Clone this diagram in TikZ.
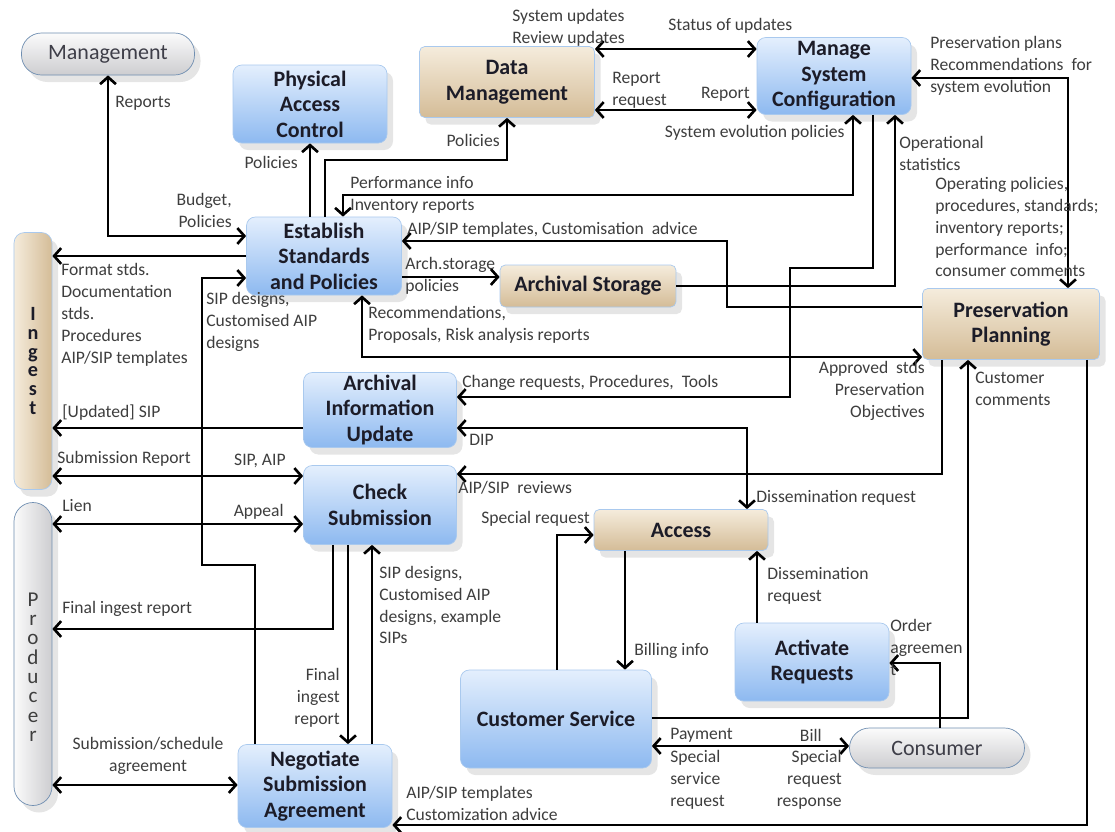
\documentclass[tikz,border=0pt]{standalone}
\usepackage{fontspec}
\setmainfont{Carlito}
\usepackage{tikz}
\usetikzlibrary{arrows.meta, positioning, shadows}
\usepackage{xcolor}
\definecolor{BoxTop}{HTML}{E4EFFD}
\definecolor{BoxBot}{HTML}{8DB9F0}
\definecolor{BoxEdge}{HTML}{A9C9EE}
\definecolor{TanTop}{HTML}{F5ECDC}
\definecolor{TanBot}{HTML}{D4BC97}
\definecolor{GreyTop}{HTML}{FBFBFB}
\definecolor{GreyBot}{HTML}{CDCDD0}
\definecolor{PillEdge}{HTML}{6F8EB1}
\definecolor{LabelGrey}{HTML}{3E3E3E}
\definecolor{NodeInk}{HTML}{1C1C28}

\begin{document}
\begin{tikzpicture}[
  x=0.2mm, y=-0.2mm,
  proc/.style={rounded corners=5pt, draw=BoxEdge, top color=BoxTop, bottom color=BoxBot,
               align=center, inner sep=1pt, text=NodeInk,
               font=\bfseries\fontsize{12.5}{14.5}\selectfont,
               drop shadow={shadow xshift=1.2mm, shadow yshift=-1.4mm, opacity=0.2}},
  store/.style={proc, rounded corners=3pt, top color=TanTop, bottom color=TanBot},
  actor/.style={rounded corners=4mm, draw=PillEdge, top color=GreyTop, bottom color=GreyBot,
                align=center, inner sep=1pt, text=NodeInk!85,
                font=\fontsize{12.5}{14.5}\selectfont,
                drop shadow={shadow xshift=1.2mm, shadow yshift=-1.4mm, opacity=0.2}},
  lbl/.style={font=\fontsize{10}{12.5}\selectfont, text=LabelGrey, align=left, inner sep=0pt},
  arr/.style={-{Straight Barb[length=4pt, width=9pt]}, line width=1.5pt},
  arrboth/.style={{Straight Barb[length=4pt, width=9pt]}-{Straight Barb[length=4pt, width=9pt]}, line width=1.5pt}
]
\fill[white] (0,0) rectangle (1115,832);
\useasboundingbox (0,0) rectangle (1115,832);

% ── EXTERNAL ACTORS ───────────────────────────────────────────────────────────
\node[actor, minimum width=34.6mm, minimum height=8.4mm] (mgmt) at (108,54) {Management};
\node[actor, minimum width=35mm, minimum height=8mm]     (cons) at (937,748) {Consumer};
\node[rounded corners=6pt, draw=BoxEdge, left color=TanTop, right color=TanBot,
      minimum width=7.6mm, minimum height=51.4mm, inner sep=0pt, align=center, text=NodeInk,
      font=\bfseries\fontsize{11.5}{10.6}\selectfont,
      drop shadow={shadow xshift=1.2mm, shadow yshift=-1.4mm, opacity=0.2}]
  (ingest) at (33,361) {I\\n\\g\\e\\s\\t};
\node[rounded corners=3.8mm, draw=PillEdge, left color=GreyTop, right color=GreyBot,
      minimum width=7.6mm, minimum height=60.6mm, inner sep=0pt,
      drop shadow={shadow xshift=1.2mm, shadow yshift=-1.4mm, opacity=0.2},
      label={[name=producerTxt, align=center, text=LabelGrey, inner sep=0pt,
              font=\fontsize{12}{11}\selectfont, yshift=-2.6mm]center:{P\\r\\o\\d\\u\\c\\e\\r}}]
  (producer) at (33,654) {};

% ── FUNCTIONS ─────────────────────────────────────────────────────────────────
\node[proc, minimum width=30.8mm, minimum height=15.6mm] (pac) at (310,104) {Physical\\Access\\Control};
\node[store, minimum width=35mm, minimum height=14.2mm]  (dm)  at (507,82)  {Data\\Management};
\node[proc, minimum width=30.8mm, minimum height=15.4mm] (msc) at (834,76)  {Manage\\System\\Configuration};
\node[proc, minimum width=31mm, minimum height=15.6mm]   (esp) at (324,256) {Establish\\Standards\\and Policies};
\node[store, minimum width=35.2mm, minimum height=8.4mm] (as)  at (588,286) {Archival Storage};
\node[store, minimum width=35.4mm, minimum height=14.2mm](pp)  at (1011,324) {Preservation\\Planning};
\node[proc, minimum width=30.6mm, minimum height=15mm]   (aiu) at (380,410) {Archival\\Information\\Update};
\node[proc, minimum width=30.6mm, minimum height=15.8mm] (cs)  at (380,505) {Check\\Submission};
\node[store, minimum width=34.8mm, minimum height=8.2mm] (acc) at (681,530) {Access};
\node[proc, minimum width=30.8mm, minimum height=15.6mm] (ar)  at (812,662) {Activate\\Requests};
\node[proc, minimum width=38.2mm, minimum height=19.6mm] (csv) at (556,719) {Customer Service};
\node[proc, minimum width=30.8mm, minimum height=16.6mm] (nsa) at (315,786) {Negotiate\\Submission\\Agreement};

% ── TOP ROW ───────────────────────────────────────────────────────────────────
\draw[arrboth] (mgmt.south) |- (esp.west |- 0,236);
\node[lbl, anchor=west] (lReports) at (115,103) {Reports};
\node[lbl, anchor=east, align=right] (lBudget) at (232,210) {Budget,\\Policies};

\draw[arr] (esp.north -| 310,0) -- (pac.south -| 310,0);
\node[lbl, anchor=east] (lPolA) at (298,162) {Policies};

\draw[arr] (esp.north -| 325,0) |- (507,160) -- (dm.south);
\node[lbl, anchor=east] (lPolB) at (500,140) {Policies};

\draw[arrboth] (dm.east |- 0,49) -- (msc.west |- 0,49);
\node[lbl, anchor=west] (lSysUpd) at (512,28) {System updates\\Review updates};
\node[lbl, anchor=west] (lStatus) at (668,26) {Status of updates};

\draw[arrboth] (dm.east |- 0,110) -- (msc.west |- 0,110);
\node[lbl, anchor=west] (lRepReq) at (612,90) {Report\\request};
\node[lbl, anchor=east] (lReport) at (750,94) {Report};

\draw[arrboth] (esp.north -| 343,0) |- (853,195) -- (msc.south -| 853,0);
\node[lbl, anchor=west] (lPerf) at (350,195) {Performance info\\Inventory reports};
\node[lbl, anchor=east] (lSysEvo) at (845,133) {System evolution policies};

\draw[arrboth] (msc.east |- 0,78) -| (pp.north -| 1068,0);
\node[lbl, anchor=west] (lPlans) at (930,66) {Preservation plans\\Recommendations~ for\\system evolution};
\node[lbl, anchor=west] (lOper) at (935,227)
  {Operating policies,\\procedures, standards;\\inventory reports;\\performance~ info;\\consumer comments};

% ── MIDDLE ────────────────────────────────────────────────────────────────────
\draw[arr] (as.east) -| (msc.south -| 895,0);
\node[lbl, anchor=west] (lOpStat) at (899,153) {Operational\\statistics};

\draw[arr] (msc.south -| 873,0) |- (790,268) |- (aiu.east |- 0,397);
\node[lbl, anchor=west] (lChange) at (462,383) {Change requests, Procedures,~ Tools};

\draw[arr] (pp.west |- 0,307) -| (727,241) -- (esp.east |- 0,241);
\node[lbl, anchor=west] (lTempl) at (407,230) {AIP/SIP templates, Customisation~ advice};

\draw[arr] (esp.east |- 0,277) -- (as.west |- 0,277);
\node[lbl, anchor=west] (lArch) at (405,276) {Arch.storage\\policies};

\draw[arrboth] (esp.south -| 362,0) |- (pp.west |- 0,357);
\node[lbl, anchor=west] (lRecom) at (368,325) {Recommendations,\\Proposals, Risk analysis reports};
\node[lbl, anchor=east, align=right] (lApproved) at (925,391) {Approved~ stds\\Preservation\\Objectives};

\draw[arr] (esp.west |- 0,256) -- (ingest.east |- 0,256);
\node[lbl, anchor=west] (lFormat) at (61,315) {Format stds.\\Documentation\\stds.\\Procedures\\AIP/SIP templates};

\draw[arr] (nsa.north -| 255,0) |- (202,565) |- (esp.west |- 0,278);
\node[lbl, anchor=west] (lSipDes) at (206,322) {SIP designs,\\Customised AIP\\designs};

% ── INGEST / PRODUCER SIDE ────────────────────────────────────────────────────
\draw[arr] (aiu.west |- 0,428) -- (ingest.east |- 0,428);
\node[lbl, anchor=west] (lUpd) at (62,413) {[Updated] SIP};

\draw[arrboth] (ingest.east |- 0,476) -- (cs.west |- 0,476);
\node[lbl, anchor=west] (lSubRep) at (57,459) {Submission Report};
\node[lbl, anchor=east] (lSipAip) at (286,461) {SIP, AIP};

\draw[arrboth] (producer.east |- 0,524) -- (cs.west |- 0,524);
\node[lbl, anchor=west] (lLien) at (62,506) {Lien};
\node[lbl, anchor=east] (lAppeal) at (284,512) {Appeal};

\draw[arr] (cs.south -| 333,0) |- (producer.east |- 0,629);
\node[lbl, anchor=west] (lFinal) at (62,609) {Final ingest report};

\draw[arr] (cs.south -| 348,0) -- (nsa.north -| 348,0);
\node[lbl, anchor=east, align=right] (lFinalB) at (340,698) {Final\\ingest\\report};

\draw[arr] (nsa.north -| 372,0) -- (cs.south -| 372,0);
\node[lbl, anchor=west] (lSipEx) at (379,605) {SIP designs,\\Customised AIP\\designs, example\\SIPs};

\draw[arrboth] (producer.east |- 0,785) -- (nsa.west |- 0,785);
\node[lbl, align=center] (lSched) at (148,756) {Submission/schedule\\agreement};

% ── ACCESS SIDE ───────────────────────────────────────────────────────────────
\draw[arrboth] (aiu.east |- 0,428) -| (acc.north -| 747,0);
\node[lbl, anchor=west] (lDip) at (469,440) {DIP};
\node[lbl, anchor=west] (lDissA) at (756,498) {Dissemination request};

\draw[arr] (pp.south -| 942,0) |- (cs.east |- 0,474);
\node[lbl, anchor=west] (lReviews) at (458,488) {AIP/SIP~ reviews};

\draw[arr] (csv.north -| 557,0) |- (acc.west |- 0,535);
\node[lbl, anchor=east] (lSpecial) at (590,519) {Special request};

\draw[arr] (acc.south -| 625,0) -- (csv.north -| 625,0);
\node[lbl, anchor=west] (lBilling) at (634,651) {Billing info};

\draw[arr] (ar.north -| 757,0) -- (acc.south -| 757,0);
\node[lbl, anchor=west] (lDissB) at (767,586) {Dissemination\\request};

\draw[arr] (cons.north -| 940,0) |- (ar.east |- 0,663);
\node[lbl, anchor=west] (lOrder) at (890,647) {Order\\agreemen\\t};

\draw[arr] (csv.east |- 0,718) -| (pp.south -| 968,0);
\node[lbl, anchor=west] (lCustCom) at (975,389) {Customer\\comments};

\draw[arrboth] (csv.east |- 0,746) -- (cons.west |- 0,746);
\node[lbl, anchor=west] (lPayment) at (670,735) {Payment};
\node[lbl, anchor=west] (lSpecSrv) at (670,780) {Special\\service\\request};
\node[lbl, anchor=east] (lBill) at (822,735) {Bill};
\node[lbl, anchor=east, align=right] (lSpecResp) at (842,780) {Special\\request\\response};

\draw[arr] (pp.south -| 1087,0) |- (nsa.east |- 0,825);
\node[lbl, anchor=west] (lTemplB) at (406,803) {AIP/SIP templates\\Customization advice};

\end{tikzpicture}
\end{document}
